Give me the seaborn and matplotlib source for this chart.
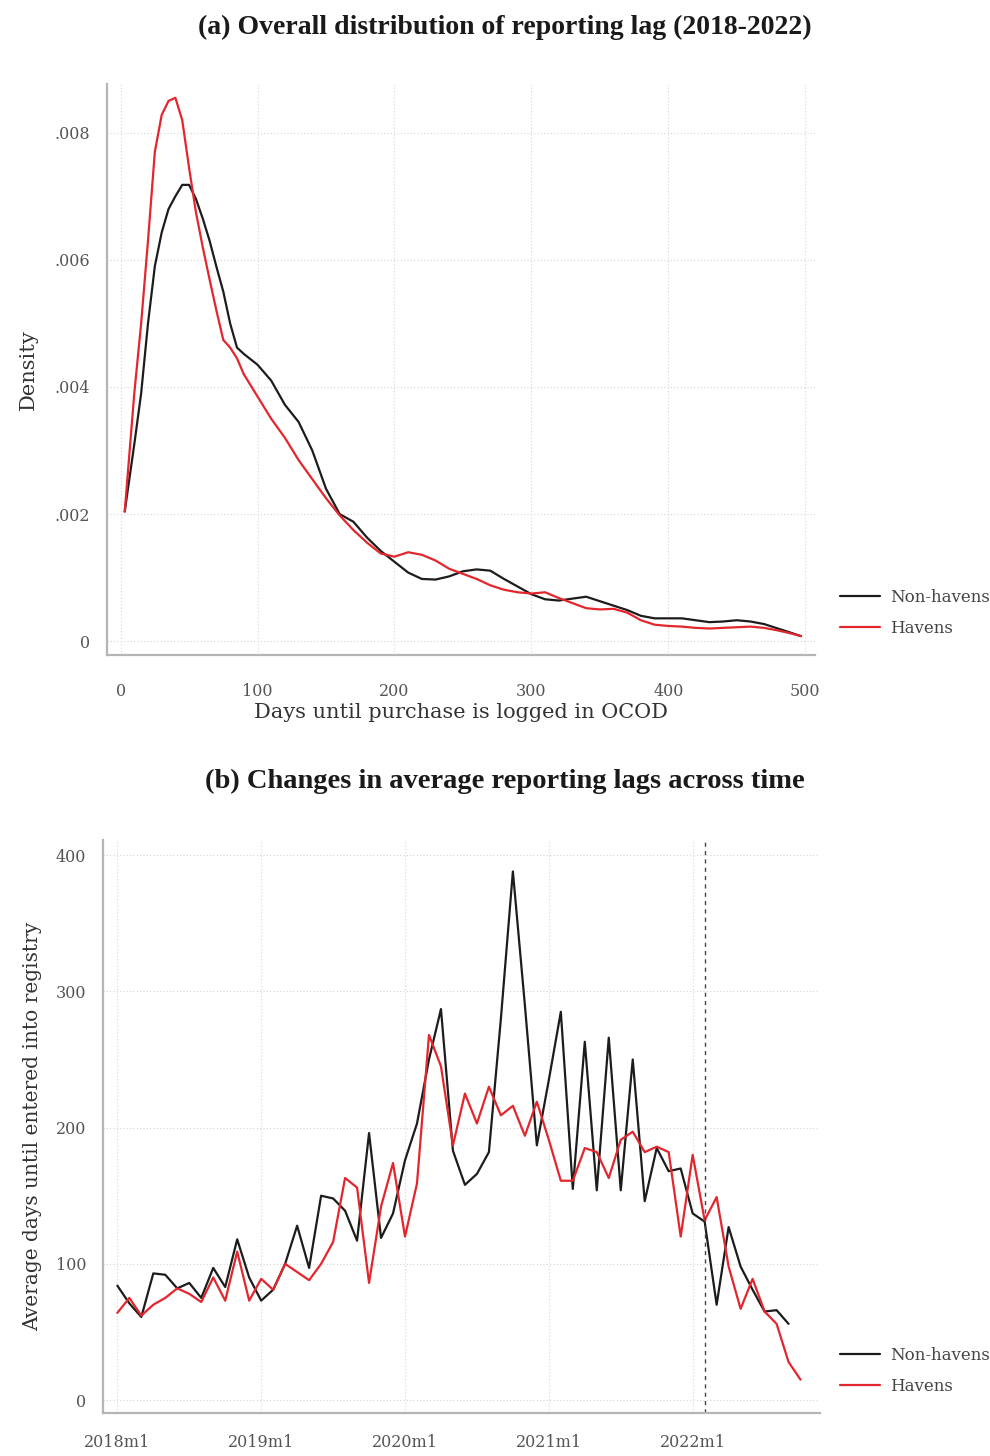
import numpy as np
import pandas as pd
import matplotlib
matplotlib.use("Agg")
import matplotlib.pyplot as plt
import seaborn as sns

# ---- Panel (a): density of reporting lag (days) ----
lag_days = [3, 10, 15, 20, 25, 30, 35, 40, 45, 50, 55, 60, 65, 70, 75, 80, 85, 90,
            100, 110, 120, 130, 140, 150, 160, 170, 180, 190, 200, 210, 220, 230,
            240, 250, 260, 270, 280, 290, 300, 310, 320, 330, 340, 350, 360, 370,
            380, 390, 400, 410, 420, 430, 440, 450, 460, 470, 480, 490, 497]
density_nonhavens = [0.00204, 0.0031, 0.0039, 0.0050, 0.0059, 0.00643, 0.0068, 0.0070,
                     0.00718, 0.00718, 0.00696, 0.00665, 0.0063, 0.00589, 0.0055, 0.0050,
                     0.00462, 0.00452, 0.00435, 0.0041, 0.00372, 0.00345, 0.0030, 0.0024,
                     0.0020, 0.00188, 0.00163, 0.00142, 0.00125, 0.00108, 0.00098, 0.00097,
                     0.00102, 0.0011, 0.00113, 0.00111, 0.00098, 0.00086, 0.00074, 0.00066,
                     0.00064, 0.00067, 0.0007, 0.00063, 0.00056, 0.00049, 0.0004, 0.00036,
                     0.00036, 0.00036, 0.00033, 0.0003, 0.00031, 0.00033, 0.00031, 0.00027,
                     0.0002, 0.00013, 0.00008]
density_havens = [0.00204, 0.0039, 0.0050, 0.0063, 0.0077, 0.00828, 0.0085, 0.00855,
                  0.0082, 0.00745, 0.00675, 0.0062, 0.00569, 0.0052, 0.00474, 0.00462,
                  0.00445, 0.0042, 0.00385, 0.0035, 0.0032, 0.00285, 0.00255, 0.00225,
                  0.00198, 0.00175, 0.00155, 0.00138, 0.00133, 0.0014, 0.00136, 0.00127,
                  0.00114, 0.00106, 0.00098, 0.00088, 0.00081, 0.00077, 0.00075, 0.00077,
                  0.00068, 0.0006, 0.00052, 0.0005, 0.00051, 0.00045, 0.00033, 0.00026,
                  0.00024, 0.00023, 0.00021, 0.0002, 0.00021, 0.00022, 0.00023, 0.00021,
                  0.00017, 0.00012, 0.00008]

# ---- Panel (b): monthly average lag, months counted from 2018m1 ----
avg_nonhavens = [84, 71, 61, 93, 92, 82, 86, 75, 97, 83, 118, 90,
                 73, 81, 100, 128, 97, 150, 148, 139, 117, 196, 119, 137,
                 176, 203, 250, 287, 183, 158, 166, 182, 280, 388, 290, 187,
                 235, 285, 155, 263, 154, 266, 154, 250, 146, 185, 168, 170,
                 137, 131, 70, 127, 98, 81, 65, 66, 56]
avg_havens = [64, 75, 62, 70, 75, 82, 78, 72, 90, 73, 109, 73,
              89, 81, 100, 94, 88, 100, 116, 163, 156, 86, 142, 174,
              120, 159, 268, 245, 187, 225, 203, 230, 209, 216, 194, 219,
              191, 161, 161, 185, 182, 163, 191, 197, 182, 186, 182, 120,
              180, 132, 149, 98, 67, 89, 65, 56, 28, 15]
month_tick_pos = [0, 12, 24, 36, 48]
month_tick_labels = ["2018m1", "2019m1", "2020m1", "2021m1", "2022m1"]
policy_month = 49  # 2022m2

groups = ["Non-havens", "Havens"]
colors = {"Non-havens": "#1c1c1c", "Havens": "#e3262d"}

dens = pd.concat([
    pd.DataFrame({"days": lag_days, "density": density_nonhavens, "group": groups[0]}),
    pd.DataFrame({"days": lag_days, "density": density_havens, "group": groups[1]}),
])
ts = pd.concat([
    pd.DataFrame({"month": np.arange(len(avg_nonhavens)), "lag": avg_nonhavens, "group": groups[0]}),
    pd.DataFrame({"month": np.arange(len(avg_havens)), "lag": avg_havens, "group": groups[1]}),
])

sns.set_theme(style="white")
plt.rcParams["font.family"] = ["DejaVu Serif"]

fig = plt.figure(figsize=(9.9, 14.56), dpi=100)
ax1 = fig.add_axes([0.108, 0.550, 0.715, 0.392])
ax2 = fig.add_axes([0.104, 0.0295, 0.724, 0.3935])

sns.lineplot(data=dens, x="days", y="density", hue="group", hue_order=groups,
             palette=colors, linewidth=1.6, ax=ax1, legend=False, sort=False,
             estimator=None)
sns.lineplot(data=ts, x="month", y="lag", hue="group", hue_order=groups,
             palette=colors, linewidth=1.6, ax=ax2, legend=False, sort=False,
             estimator=None)
ax2.axvline(policy_month, color="#444444", linestyle=(0, (3, 3)), linewidth=1.0)

spine_col = "#b5b5b5"
tick_col = "#555555"
label_col = "#333333"
grid_kw = dict(color="#d4d4d4", linestyle=(0, (1, 2)), linewidth=0.8)


def style_axes(ax, xpad):
    for s in ["top", "right"]:
        ax.spines[s].set_visible(False)
    for s in ["left", "bottom"]:
        ax.spines[s].set_color(spine_col)
        ax.spines[s].set_linewidth(1.6)
    ax.tick_params(axis="both", direction="out", length=6, width=1.0,
                   color=spine_col, labelcolor=tick_col, labelsize=11.5, pad=6)
    ax.tick_params(axis="x", pad=xpad)
    ax.grid(True, **grid_kw)
    ax.set_axisbelow(True)


# Panel (a)
ax1.set_xlim(-10, 507)
ax1.set_ylim(-0.00022, 0.00876)
ax1.set_xticks([0, 100, 200, 300, 400, 500])
ax1.set_yticks([0, 0.002, 0.004, 0.006, 0.008])
ax1.set_yticklabels(["0", ".002", ".004", ".006", ".008"])
ax1.set_xlabel("Days until purchase is logged in OCOD", fontsize=15, color=label_col, labelpad=2)
ax1.set_ylabel("Density", fontsize=15, color=label_col, labelpad=12)
style_axes(ax1, xpad=14)

# Panel (b)
ax2.set_xlim(-1.2, 58.6)
ax2.set_ylim(-9.5, 411)
ax2.set_xticks(month_tick_pos)
ax2.set_xticklabels(month_tick_labels)
ax2.set_yticks([0, 100, 200, 300, 400])
ax2.set_xlabel("")
ax2.set_ylabel("Average days until entered into registry", fontsize=14.5, color=label_col, labelpad=10)
style_axes(ax2, xpad=9)

# Legends on the right of each panel
handles = [plt.Line2D([], [], color=colors[g], linewidth=1.6) for g in groups]
for ypos in (0.579, 0.0585):
    fig.legend(handles, groups, loc="center left", bbox_to_anchor=(0.833, ypos),
               frameon=False, fontsize=12, handlelength=2.4, handletextpad=0.6,
               labelspacing=0.85, labelcolor="#444444")

fig.text(0.51, 0.981, "(a) Overall distribution of reporting lag (2018-2022)",
         ha="center", va="center", fontsize=20, fontweight="bold",
         family=["Liberation Serif"], color="#1a1a1a")
fig.text(0.51, 0.4635, "(b) Changes in average reporting lags across time",
         ha="center", va="center", fontsize=20.5, fontweight="bold",
         family=["Liberation Serif"], color="#1a1a1a")

fig.savefig("out.png", dpi=100, facecolor="white")
